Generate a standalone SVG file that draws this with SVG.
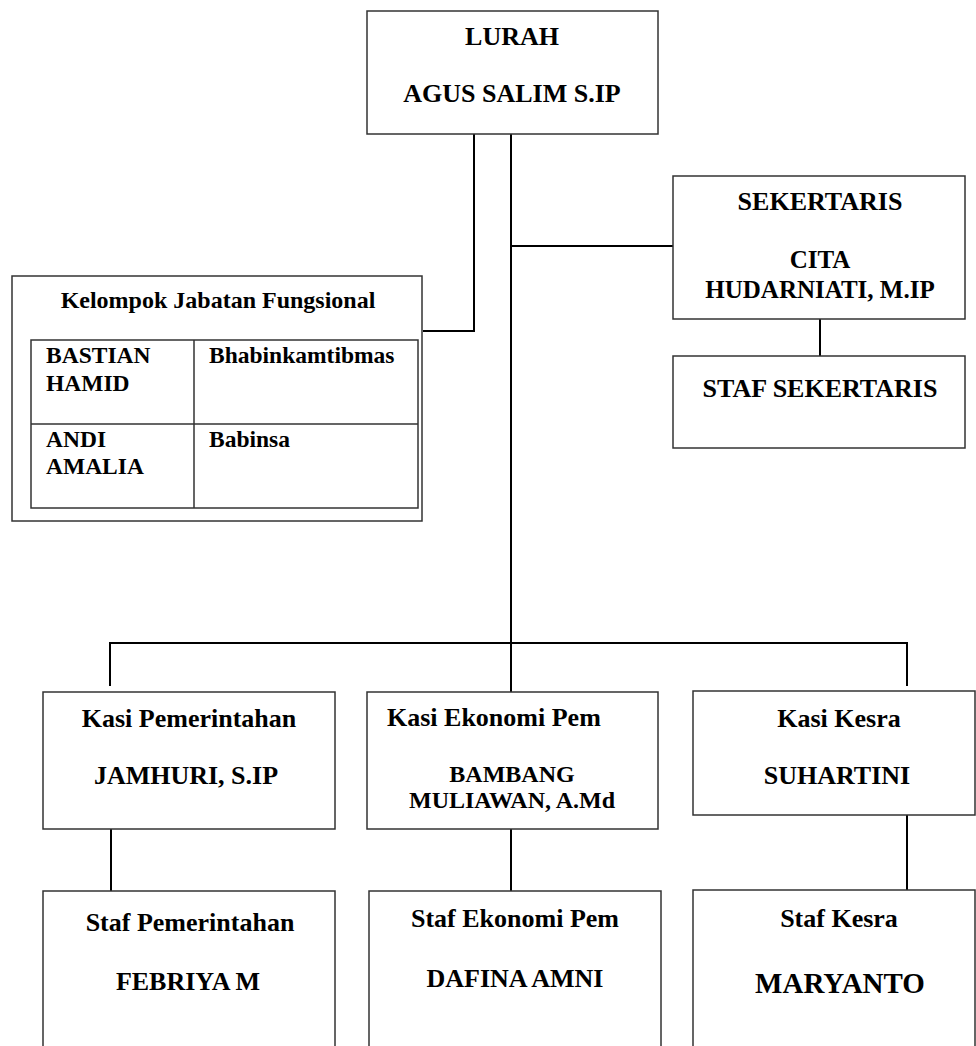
<svg xmlns="http://www.w3.org/2000/svg" width="976" height="1046" viewBox="0 0 976 1046">
<style>
.box{fill:#fff;stroke:#333;stroke-width:1.5}
.cell{fill:none;stroke:#333;stroke-width:1.5}
.con{fill:none;stroke:#000;stroke-width:2}
.c{text-anchor:middle}
.f26{font-size:26px}
.f25{font-size:25px}
.f24{font-size:24px}
.f23{font-size:23.5px}
.f29{font-size:29px}
</style>
<rect width="976" height="1046" fill="#fff"/>
<g id="connectors">
<path class="con" d="M474,134 V331 H423"/>
<path class="con" d="M511,134 V692"/>
<path class="con" d="M511,246 H673"/>
<path class="con" d="M820,319 V356"/>
<path class="con" d="M110,686 V643 H907 V686"/>
<path class="con" d="M111,817 V891"/>
<path class="con" d="M511,817 V891"/>
<path class="con" d="M907,815 V891"/>
</g>
<g font-family="Liberation Serif, Tinos, Times New Roman, serif" font-weight="700" fill="#000">
<g id="lurah">
<rect class="box" x="367" y="11" width="291" height="123"/>
<text class="c f26" x="512" y="45">LURAH</text>
<text class="c f26" x="512" y="102">AGUS SALIM S.IP</text>
</g>
<g id="sekertaris">
<rect class="box" x="673" y="176" width="292" height="143"/>
<text class="c f26" x="820" y="210">SEKERTARIS</text>
<text class="c f25" x="820" y="268">CITA</text>
<text class="c f25" x="820" y="298">HUDARNIATI, M.IP</text>
</g>
<g id="staf-sekertaris">
<rect class="box" x="673" y="356" width="292" height="92"/>
<text class="c f26" x="820" y="397">STAF SEKERTARIS</text>
</g>
<g id="kelompok">
<rect class="box" x="12" y="276" width="410" height="245"/>
<text class="c f24" x="218" y="308">Kelompok Jabatan Fungsional</text>
<rect class="cell" x="31" y="340" width="387" height="168"/>
<path class="cell" d="M31,424 H418 M194,340 V508"/>
<text class="f23" x="46" y="363">BASTIAN</text>
<text class="f23" x="46" y="391">HAMID</text>
<text class="f23" x="209" y="363">Bhabinkamtibmas</text>
<text class="f23" x="46" y="447">ANDI</text>
<text class="f23" x="46" y="474">AMALIA</text>
<text class="f23" x="209" y="447">Babinsa</text>
</g>
<g id="kasi-pemerintahan">
<rect class="box" x="43" y="692" width="292" height="137"/>
<text class="c f26" x="189" y="727">Kasi Pemerintahan</text>
<text class="c f26" x="186" y="784">JAMHURI, S.IP</text>
</g>
<g id="kasi-ekonomi">
<rect class="box" x="367" y="692" width="291" height="137"/>
<text class="f26" x="387" y="726">Kasi Ekonomi Pem</text>
<text class="c f24" x="512" y="782">BAMBANG</text>
<text class="c f24" x="512" y="808">MULIAWAN, A.Md</text>
</g>
<g id="kasi-kesra">
<rect class="box" x="693" y="691" width="282" height="124"/>
<text class="c f26" x="839" y="727">Kasi Kesra</text>
<text class="c f26" x="837" y="784">SUHARTINI</text>
</g>
<g id="staf-pemerintahan">
<rect class="box" x="43" y="891" width="292" height="170"/>
<text class="c f26" x="190" y="931">Staf Pemerintahan</text>
<text class="c f26" x="188" y="990">FEBRIYA M</text>
</g>
<g id="staf-ekonomi">
<rect class="box" x="369" y="891" width="292" height="170"/>
<text class="c f26" x="515" y="927">Staf Ekonomi Pem</text>
<text class="c f26" x="515" y="987">DAFINA AMNI</text>
</g>
<g id="staf-kesra">
<rect class="box" x="693" y="890" width="282" height="170"/>
<text class="c f26" x="839" y="927">Staf Kesra</text>
<text class="c f29" x="840" y="993">MARYANTO</text>
</g>
</g>
</svg>
